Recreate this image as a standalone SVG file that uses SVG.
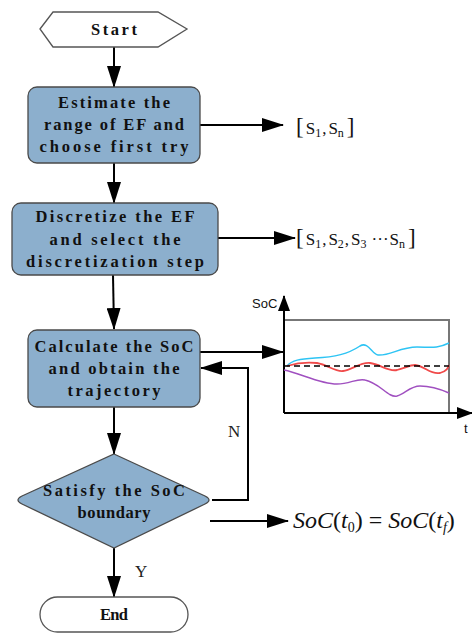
<svg xmlns="http://www.w3.org/2000/svg" width="472" height="633" viewBox="0 0 472 633">
<defs>
<marker id="ah" markerUnits="userSpaceOnUse" markerWidth="22" markerHeight="14" refX="21" refY="7" orient="auto">
<path d="M0,0 L22,7 L0,14 Z" fill="#000"/>
</marker>
<marker id="ahs" markerUnits="userSpaceOnUse" markerWidth="16" markerHeight="12" refX="15" refY="6" orient="auto">
<path d="M0,0 L16,6 L0,12 Z" fill="#000"/>
</marker>
<style>
.box{fill:#8CAFCD;stroke:#4a4a4a;stroke-width:1.3}
.term{fill:#fff;stroke:#555;stroke-width:1.3}
.t{font-family:"Liberation Serif",serif;font-size:16.5px;font-weight:bold;fill:#111;text-anchor:middle}
.c{stroke:#000;stroke-width:2;fill:none}
.lab{font-family:"Liberation Serif",serif;font-size:17px;fill:#222}
</style>
</defs>
<rect width="472" height="633" fill="#fff"/>
<g id="connectors">
<path class="c" d="M114,47 L114,87" marker-end="url(#ah)"/>
<path class="c" d="M114,163 L114,203" marker-end="url(#ah)"/>
<path class="c" d="M113,275 L114,329" marker-end="url(#ah)"/>
<path class="c" d="M114,407 L114,454" marker-end="url(#ah)"/>
<path class="c" d="M114,548 L114,597" marker-end="url(#ah)"/>
<path class="c" d="M200,125 L283,125" marker-end="url(#ah)"/>
<path class="c" d="M218,238 L295,238" marker-end="url(#ah)"/>
<path class="c" d="M200,352 L283,352" marker-end="url(#ah)"/>
<path class="c" d="M212,500 L248,500 L248,368 L201,368" marker-end="url(#ah)"/>
<path class="c" d="M210,521 L288,521" marker-end="url(#ah)"/>
<text class="lab" x="228" y="437">N</text>
<text class="lab" x="135" y="577">Y</text>
</g>
<g id="start">
<polygon class="term" points="40,29 53,12 158,12 187,29 158,47 53,47"/>
<text class="t" x="114" y="35" textLength="46" lengthAdjust="spacing">Start</text>
</g>
<g id="estimate">
<rect class="box" x="28" y="87" width="172" height="76" rx="9"/>
<text class="t" x="114" y="108" textLength="112" lengthAdjust="spacing">Estimate the</text>
<text class="t" x="114" y="130" textLength="140" lengthAdjust="spacing">range of EF and</text>
<text class="t" x="114" y="152" textLength="149" lengthAdjust="spacing">choose first try</text>
</g>
<g id="discretize">
<rect class="box" x="12" y="203" width="206" height="72" rx="9"/>
<text class="t" x="115" y="222" textLength="159" lengthAdjust="spacing">Discretize the EF</text>
<text class="t" x="115" y="245" textLength="131" lengthAdjust="spacing">and select the</text>
<text class="t" x="115" y="267" textLength="178" lengthAdjust="spacing">discretization step</text>
</g>
<g id="calculate">
<rect class="box" x="28" y="330" width="172" height="77" rx="9"/>
<text class="t" x="114" y="352" textLength="159" lengthAdjust="spacing">Calculate the SoC</text>
<text class="t" x="114" y="374" textLength="131" lengthAdjust="spacing">and obtain the</text>
<text class="t" x="114" y="396" textLength="93" lengthAdjust="spacing">trajectory</text>
</g>
<g id="satisfy">
<path class="box" d="M114,454 L205,496 Q213,500 205,504 L114,548 L22,504 Q14,500 22,496 Z"/>
<text class="t" x="114" y="496" textLength="142" lengthAdjust="spacing">Satisfy the SoC</text>
<text class="t" x="114" y="518" textLength="73" lengthAdjust="spacing">boundary</text>
</g>
<g id="end">
<rect class="term" x="40" y="597" width="148" height="35" rx="17.5"/>
<text class="t" x="114" y="620" textLength="28" lengthAdjust="spacing">End</text>
</g>
<g id="range-label">
<text font-family="Liberation Serif,serif" font-size="17" fill="#111" x="296" y="134"><tspan font-size="23">[</tspan><tspan dx="2">S</tspan><tspan font-size="12" dy="3">1</tspan><tspan dy="-3" dx="1">,</tspan><tspan dx="2">S</tspan><tspan font-size="12" dy="3">n</tspan><tspan dy="-3" dx="3" font-size="23">]</tspan></text>
</g>
<g id="discrete-label">
<text font-family="Liberation Serif,serif" font-size="17" fill="#111" x="296" y="245"><tspan font-size="23">[</tspan><tspan dx="2">S</tspan><tspan font-size="12" dy="3">1</tspan><tspan dy="-3" dx="1">,</tspan><tspan dx="2">S</tspan><tspan font-size="12" dy="3">2</tspan><tspan dy="-3" dx="1">,</tspan><tspan dx="2">S</tspan><tspan font-size="12" dy="3">3</tspan><tspan dy="-3" dx="5">···</tspan><tspan dx="1">S</tspan><tspan font-size="12" dy="3">n</tspan><tspan dy="-3" dx="3" font-size="23">]</tspan></text>
</g>
<g id="chart">
<path d="M284,320 L449,320 L449,413" stroke="#777" stroke-width="2" fill="none"/>
<path class="c" d="M284,413 L284,296" marker-end="url(#ahs)"/>
<path class="c" d="M284,413 L472,413" marker-end="url(#ahs)"/>
<text font-family="Liberation Sans,sans-serif" font-size="13" fill="#111" x="252" y="308">SoC</text>
<text font-family="Liberation Sans,sans-serif" font-size="13" fill="#111" x="464" y="433">t</text>
<path d="M287,366 C292,360 300,359 315,358 C335,357 348,354 360,346 C368,341 372,354 378,355 C390,356 400,347 417,347 C430,347 437,349 449,343" stroke="#2EC4F4" stroke-width="1.5" fill="none"/>
<path d="M287,366 C300,362 308,362 317,363 C328,365 335,372 343,371 C352,370 360,362 370,363 C380,364 388,372 397,370 C405,368 410,365 415,365 C425,366 430,375 440,373 C447,371 448,368 449,365" stroke="#F04A4A" stroke-width="1.8" fill="none"/>
<path d="M284,370 C300,373 320,384 337,384 C350,384 357,378 365,380 C380,383 388,398 397,396 C405,394 410,386 420,386 C432,386 440,389 449,393" stroke="#A050C0" stroke-width="1.5" fill="none"/>
<path d="M284,366 L449,366" stroke="#000" stroke-width="1.5" stroke-dasharray="6,4" fill="none"/>
</g>
<g id="equation">
<text font-family="Liberation Serif,serif" font-size="24" fill="#111" x="293" y="528"><tspan font-style="italic">SoC</tspan>(<tspan font-style="italic">t</tspan><tspan font-size="14" dy="4">0</tspan><tspan dy="-4">) = </tspan><tspan font-style="italic">SoC</tspan>(<tspan font-style="italic">t</tspan><tspan font-size="14" dy="4" font-style="italic">f</tspan><tspan dy="-4">)</tspan></text>
</g>
</svg>
